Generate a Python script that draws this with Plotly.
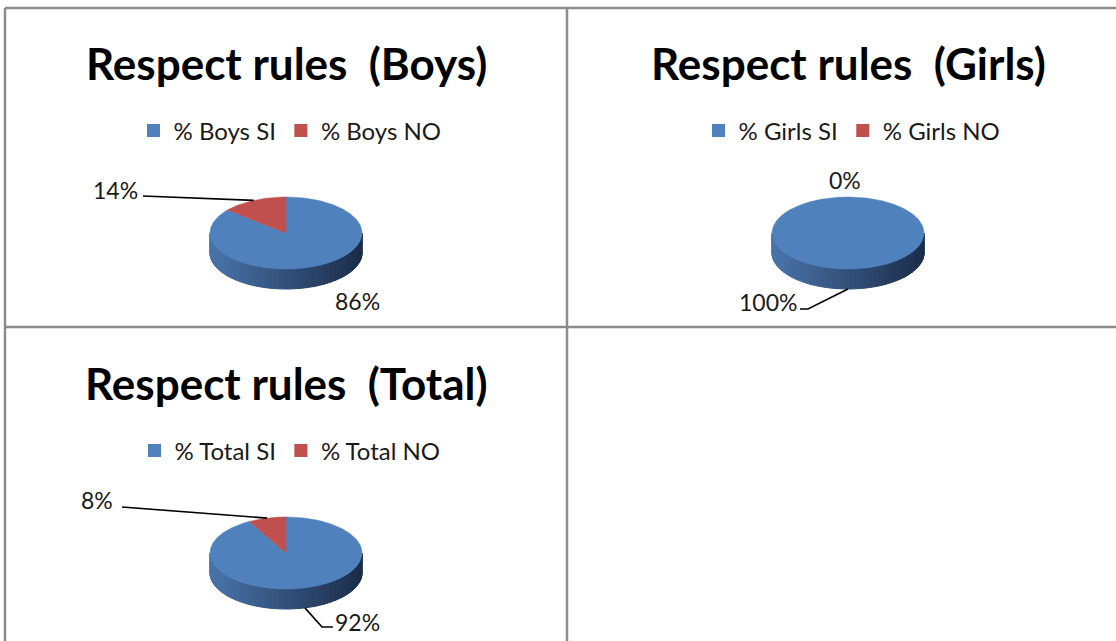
import numpy as np
import plotly.graph_objects as go

# ---------------- data ----------------
titles = ["Respect rules \u00a0(Boys)", "Respect rules \u00a0(Girls)", "Respect rules \u00a0(Total)"]
categories_boys = ["% Boys SI", "% Boys NO"]
categories_girls = ["% Girls SI", "% Girls NO"]
categories_total = ["% Total SI", "% Total NO"]
values_boys = [86, 14]
values_girls = [100, 0]
values_total = [92, 8]

# ---------------- layout / style ----------------
W, H = 1116, 641
S = 76.0          # pixels per pie-radius unit
K = 0.474         # vertical squash of the tilted pie
D = 0.263         # thickness of the pie
FONT = "Lato"
TOP_COLORS = ["#4F81BD", "#C0504D"]
SIDE_LIGHT = [(74, 116, 170), (180, 78, 75)]
SIDE_DARK = [(27, 44, 72), (100, 38, 36)]
BORDER = "#8c8c8c"

panels = [
    dict(cats=categories_boys, vals=values_boys, title=titles[0],
         rect=(5, 8, 567, 327), center=(286, 233), title_y=63, legend=(290, 131),
         labels=[dict(pos=(71, 68), leader=None),
                 dict(pos=(-171, -43), leader=[(-143, -37)])]),
    dict(cats=categories_girls, vals=values_girls, title=titles[1],
         rect=(567, 8, 1116, 327), center=(848, 233), title_y=63, legend=(852, 131),
         labels=[dict(pos=(-80, 69), leader=[(-48, 76), (-40, 76)]),
                 dict(pos=(-3, -53), leader=None)]),
    dict(cats=categories_total, vals=values_total, title=titles[2],
         rect=(5, 327, 567, 641), center=(286, 553), title_y=383, legend=(290, 451),
         labels=[dict(pos=(71, 69), leader=[(47, 74), (36, 74)]),
                 dict(pos=(-189, -53), leader=[(-164, -46)])]),
]


def mix(c1, c2, t):
    return "rgb(%d,%d,%d)" % tuple(round(a + (b - a) * t) for a, b in zip(c1, c2))


fig = go.Figure()
annotations = []
layout_axes = {}

for i, p in enumerate(panels):
    n = "" if i == 0 else str(i + 1)
    xa, ya = "x" + n, "y" + n
    x0, y0, x1, y1 = p["rect"]
    cx, cy = p["center"]
    layout_axes["xaxis" + n] = dict(domain=[x0 / W, x1 / W], range=[(x0 - cx) / S, (x1 - cx) / S],
                                    visible=False, fixedrange=True, anchor=ya)
    layout_axes["yaxis" + n] = dict(domain=[(H - y1) / H, (H - y0) / H], range=[(cy - y1) / S, (cy - y0) / S],
                                    visible=False, fixedrange=True, anchor=xa)

    vals = np.array(p["vals"], dtype=float)
    frac = vals / vals.sum()
    ends = np.cumsum(frac) * 360.0
    starts = ends - frac * 360.0

    # side of the pie (visible front half: theta 90 -> 270, clockwise from top)
    nstrip = 72
    edges = np.linspace(90, 270, nstrip + 1)
    for a, b in zip(edges[:-1], edges[1:]):
        mid = (a + b) / 2
        idx = int(np.searchsorted(ends, mid))
        idx = min(idx, len(vals) - 1)
        th = np.radians(np.linspace(a, b, 4))
        xs = np.sin(th)
        yt = K * np.cos(th)
        t = (np.sin(np.radians(mid)) + 1) / 2
        col = mix(SIDE_LIGHT[idx], SIDE_DARK[idx], t)
        fig.add_trace(go.Scatter(
            x=np.concatenate([xs, xs[::-1], xs[:1]]),
            y=np.concatenate([yt, (yt - D)[::-1], yt[:1]]),
            fill="toself", fillcolor=col, mode="lines", line=dict(color=col, width=1),
            hoverinfo="skip", showlegend=False, xaxis=xa, yaxis=ya))

    # top faces
    for j, (s0, s1) in enumerate(zip(starts, ends)):
        if s1 - s0 <= 0:
            continue
        th = np.radians(np.linspace(s0, s1, max(3, int((s1 - s0) * 2))))
        xs = np.concatenate([[0], np.sin(th), [0]])
        ys = np.concatenate([[0], K * np.cos(th), [0]])
        fig.add_trace(go.Scatter(
            x=xs, y=ys, fill="toself", fillcolor=TOP_COLORS[j], mode="lines",
            line=dict(color=TOP_COLORS[j], width=0.5), hoverinfo="skip",
            showlegend=False, xaxis=xa, yaxis=ya, name=p["cats"][j]))

    # legend entries
    lg = "legend" + n
    for j, c in enumerate(p["cats"]):
        fig.add_trace(go.Scatter(
            x=[None], y=[None], mode="markers", name=c,
            marker=dict(symbol="square", size=13, color=TOP_COLORS[j]),
            legend=lg, xaxis=xa, yaxis=ya, hoverinfo="skip"))
    lx, ly = p["legend"]
    layout_axes[lg] = dict(orientation="h", x=lx / W, xanchor="center", y=1 - ly / H, yanchor="middle",
                           font=dict(family=FONT, size=24, color="#1a1a1a"),
                           bgcolor="rgba(0,0,0,0)", itemclick=False, itemdoubleclick=False,
                           itemwidth=30, tracegroupgap=0)

    # title
    annotations.append(dict(text="<b>%s</b>" % p["title"], x=cx / W, y=1 - p["title_y"] / H,
                            xref="paper", yref="paper", showarrow=False, xanchor="center", yanchor="middle",
                            font=dict(family=FONT, size=44, color="black")))

    # data labels + leader lines
    for j, lab in enumerate(p["labels"]):
        mid = (starts[j] + ends[j]) / 2
        th = np.radians(mid)
        ax_pt = (np.sin(th), K * np.cos(th) - (D if np.cos(th) < 0 else 0))
        dx, dy = lab["pos"]
        annotations.append(dict(text="%d%%" % p["vals"][j], x=dx / S, y=-dy / S, xref=xa, yref=ya,
                                showarrow=False, font=dict(family=FONT, size=23, color="#1a1a1a")))
        if lab["leader"]:
            pts = [(qx / S, -qy / S) for qx, qy in lab["leader"]] + [ax_pt]
            fig.add_trace(go.Scatter(x=[q[0] for q in pts], y=[q[1] for q in pts], mode="lines",
                                     line=dict(color="black", width=1.6), hoverinfo="skip",
                                     showlegend=False, xaxis=xa, yaxis=ya))

# panel borders
shapes = []
for (xa_, ya_, xb_, yb_) in [(5, 8, 1116, 8), (5, 327, 1116, 327), (5, 8, 5, 641), (567, 8, 567, 641)]:
    shapes.append(dict(type="line", xref="paper", yref="paper", x0=xa_ / W, y0=1 - ya_ / H,
                       x1=xb_ / W, y1=1 - yb_ / H, line=dict(color=BORDER, width=2.5)))

fig.update_layout(width=W, height=H, autosize=False, margin=dict(l=0, r=0, t=0, b=0),
                  paper_bgcolor="white", plot_bgcolor="rgba(0,0,0,0)",
                  annotations=annotations, shapes=shapes, hovermode=False, **layout_axes)

fig.write_html("out.html", config={"displayModeBar": False},
               post_script="document.body.style.margin='0';document.body.style.overflow='hidden';")
